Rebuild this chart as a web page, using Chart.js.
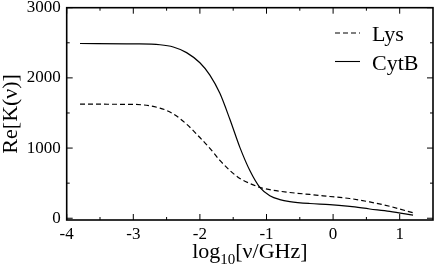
<!DOCTYPE html>
<html>
<head>
<meta charset="utf-8">
<script src="https://cdn.jsdelivr.net/npm/chart.js@4.4.0/dist/chart.umd.min.js"></script>
<style>
  html, body { margin: 0; padding: 0; background: #fff; }
  #wrap { width: 436px; height: 272px; }
</style>
</head>
<body>
<div id="wrap"><canvas id="chart" width="436" height="272"></canvas></div>
<script>
// log10 of frequency in GHz
const freq = [-3.8, -3.0, -2.6, -2.4, -2.2, -2.0, -1.85, -1.7, -1.55, -1.4, -1.25, -1.1, -0.95, -0.8, -0.65, -0.35, -0.05, 0.25, 0.55, 0.85, 1.2];
const lys = [1625, 1622, 1570, 1487, 1340, 1150, 996, 824, 681, 567, 496, 440, 408, 385, 367, 339, 310, 281, 232, 170, 78];
const cytB = [2490, 2485, 2472, 2440, 2360, 2215, 2040, 1780, 1410, 1010, 680, 440, 322, 266, 238, 210, 195, 168, 132, 98, 45];
const seriesNames = ["Lys", "CytB"];

const xTicks = [-4, -3, -2, -1, 0, 1];
const xMinor = [-3.5, -2.5, -1.5, -0.5, 0.5];
const yTicks = [0, 1000, 2000, 3000];
const yMinor = [500, 1500, 2500];

const serif = "'Liberation Serif', 'DejaVu Serif', serif";

function points(ys) {
  return freq.map((x, i) => ({ x: x, y: ys[i] }));
}

function noPadding(scale) {
  scale.paddingTop = 0;
  scale.paddingBottom = 0;
  scale.paddingLeft = 0;
  scale.paddingRight = 0;
}

// frame and inward ticks on all four sides
const frameTicks = {
  id: "frameTicks",
  afterDraw(chart) {
    const { ctx, chartArea: a, scales } = chart;
    const x = scales.x;
    const y = scales.y;
    ctx.save();
    ctx.strokeStyle = "#000";
    ctx.lineWidth = 1;
    const line = (x1, y1, x2, y2) => {
      ctx.beginPath();
      ctx.moveTo(x1, y1);
      ctx.lineTo(x2, y2);
      ctx.stroke();
    };
    xTicks.forEach((v) => {
      const p = x.getPixelForValue(v);
      line(p, a.bottom, p, a.bottom - 6);
      line(p, a.top, p, a.top + 6);
    });
    xMinor.forEach((v) => {
      const p = x.getPixelForValue(v);
      line(p, a.bottom, p, a.bottom - 3);
      line(p, a.top, p, a.top + 3);
    });
    yTicks.forEach((v) => {
      const p = y.getPixelForValue(v);
      line(a.left, p, a.left + 6, p);
      line(a.right, p, a.right - 6, p);
    });
    yMinor.forEach((v) => {
      const p = y.getPixelForValue(v);
      line(a.left, p, a.left + 3, p);
      line(a.right, p, a.right - 3, p);
    });
    ctx.lineWidth = 1.6;
    ctx.strokeRect(a.left, a.top, a.right - a.left, a.bottom - a.top);
    ctx.restore();
  },
};

// x title with subscript, legend inside plot
const labels = {
  id: "labels",
  afterDraw(chart) {
    const { ctx, chartArea: a } = chart;
    ctx.save();
    ctx.fillStyle = "#000";
    ctx.textBaseline = "alphabetic";
    const big = "22px " + serif;
    const small = "15px " + serif;
    ctx.font = big;
    const w1 = ctx.measureText("log").width;
    const w3 = ctx.measureText("[ν/GHz]").width;
    ctx.font = small;
    const w2 = ctx.measureText("10").width;
    let px = (a.left + a.right) / 2 - (w1 + w2 + w3) / 2;
    const base = 258;
    ctx.font = big;
    ctx.fillText("log", px, base);
    px += w1;
    ctx.font = small;
    ctx.fillText("10", px, base + 6);
    px += w2;
    ctx.font = big;
    ctx.fillText("[ν/GHz]", px, base);

    chart.data.datasets.forEach((ds, i) => {
      const ly = 33 + i * 28.5;
      ctx.strokeStyle = "#000";
      ctx.lineWidth = 1.1;
      ctx.setLineDash(ds.borderDash || []);
      ctx.beginPath();
      ctx.moveTo(335, ly);
      ctx.lineTo(360, ly);
      ctx.stroke();
      ctx.setLineDash([]);
      ctx.font = big;
      ctx.fillText(ds.label, 372, ly + 8);
    });
    ctx.restore();
  },
};

new Chart(document.getElementById("chart"), {
  type: "line",
  data: {
    datasets: [
      {
        label: seriesNames[0],
        data: points(lys),
        borderColor: "#000",
        borderWidth: 1.2,
        borderDash: [5, 3],
        pointRadius: 0,
        cubicInterpolationMode: "monotone",
      },
      {
        label: seriesNames[1],
        data: points(cytB),
        borderColor: "#000",
        borderWidth: 1.2,
        pointRadius: 0,
        cubicInterpolationMode: "monotone",
      },
    ],
  },
  options: {
    responsive: false,
    animation: false,
    layout: { padding: { top: 7.7, right: 3, left: 0, bottom: 0 } },
    plugins: {
      legend: { display: false },
      tooltip: { enabled: false },
    },
    scales: {
      x: {
        type: "linear",
        min: -4,
        max: 1.5,
        afterBuildTicks(scale) {
          scale.ticks = xTicks.map((v) => ({ value: v }));
        },
        afterFit(scale) {
          scale.height = 52;
          noPadding(scale);
        },
        grid: { display: false, drawTicks: false },
        border: { display: false },
        ticks: {
          color: "#000",
          padding: 4,
          maxRotation: 0,
          font: { family: serif, size: 17 },
          callback: (v) => String(v),
        },
      },
      y: {
        type: "linear",
        min: -25,
        max: 3000,
        afterBuildTicks(scale) {
          scale.ticks = yTicks.map((v) => ({ value: v }));
        },
        afterFit(scale) {
          scale.width = 66.7;
          noPadding(scale);
        },
        grid: { display: false, drawTicks: false },
        border: { display: false },
        ticks: {
          color: "#000",
          padding: 6,
          font: { family: serif, size: 17 },
          callback: (v) => String(v),
        },
        title: {
          display: true,
          text: "Re[K(ν)]",
          color: "#000",
          padding: 0,
          font: { family: serif, size: 22, lineHeight: 1 },
        },
      },
    },
  },
  plugins: [frameTicks, labels],
});
</script>
</body>
</html>
